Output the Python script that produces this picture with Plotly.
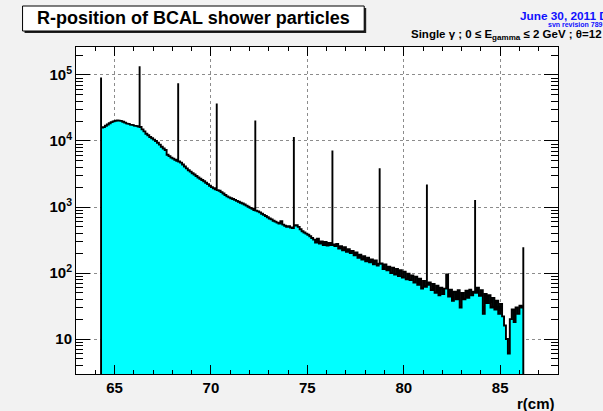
import numpy as np
import plotly.graph_objects as go

# ---------------- data ----------------
bin_lo = 64.3          # first bin lower edge (cm)
bin_width = 0.1        # cm
# continuum counts per 0.1 cm bin (64.3 .. 86.2 cm)
counts = [
    16000, 16200, 17000, 17800, 18600, 19300, 19800, 20200, 20400, 20300,
    20000, 19600, 19000, 18400, 18000, 17700, 17400, 17100, 16800, 16500,
    16300, 15000, 14000, 12900, 12200, 11500, 11000, 10500, 10000, 9400,
    8800, 8200, 7700, 7300, 6200, 5900, 5600, 5400, 5200, 5000,
    4900, 4700, 4400, 4100, 3850, 3600, 3430, 3250, 3100, 2950,
    2800, 2680, 2570, 2450, 2330, 2220, 2100, 2000, 1920, 1850,
    1800, 1760, 1680, 1600, 1520, 1450, 1400, 1360, 1320, 1280,
    1240, 1200, 1160, 1130, 1090, 1050, 1010, 970, 940, 900,
    880, 860, 830, 790, 760, 730, 700, 670, 650, 620,
    600, 580, 560, 610, 540, 520, 500, 510, 490, 480,
    525, 530, 500, 460, 430, 410, 395, 380, 360, 340,
    320, 290, 330, 280, 300, 265, 295, 260, 285, 265,
    270, 255, 275, 235, 255, 220, 245, 210, 230, 200,
    215, 185, 205, 170, 190, 160, 180, 150, 170, 145,
    160, 135, 155, 130, 138, 140, 115, 135, 110, 125,
    100, 120, 95, 115, 90, 110, 85, 105, 80, 98,
    78, 92, 72, 88, 66, 82, 58, 76, 62, 66,
    72, 55, 68, 50, 64, 46, 60, 48, 58, 95,
    44, 56, 38, 52, 40, 55, 30, 50, 40, 54,
    42, 56, 46, 52, 50, 60, 45, 55, 24, 48,
    35, 46, 30, 42, 28, 38, 24, 34, 22, 16,
    10, 6, 20, 28, 18, 30, 24, 32, 30,
]
# narrow peaks at the BCAL layer boundaries
spike_r = [64.3, 66.3, 68.3, 70.3, 72.3, 74.3, 76.3, 78.75, 81.2, 83.7, 86.2]
spike_counts = [92000, 136000, 75000, 37000, 20500, 11500, 7200, 3850, 2200, 1280, 245]

x_ticks = [65, 70, 75, 80, 85]
y_tickvals = [10, 100, 1000, 10000, 100000]
y_ticktext = ["10", "10<sup>2</sup>", "10<sup>3</sup>", "10<sup>4</sup>", "10<sup>5</sup>"]
title_text = "R-position of BCAL shower particles"
date_text = "June 30, 2011 D"
svn_text = "svn revision 789"
cond_text = "Single γ ; 0 ≤ E<sub>gamma</sub> ≤ 2 GeV ; θ=12"
xlabel = "r(cm)"

# ---------------- layout geometry (pixels) ----------------
W, H = 603, 411
ML, MR, MT, MB = 75.5, 45, 47, 37
PW = W - ML - MR
PH = H - MT - MB


def px(xp):
    return (xp - ML) / PW


def py(yp):
    return (H - MB - yp) / PH


# ---------------- histogram outline path ----------------
counts_arr = np.array(counts, dtype=float)
nb = len(counts_arr)
edges = bin_lo + bin_width * np.arange(nb + 1)
floor = 1.0
xs = [edges[0]]
ys = [floor]
eps = 1e-9
for i, c in enumerate(counts_arr):
    xl, xr = edges[i], edges[i + 1]
    xs.append(xl)
    ys.append(c)
    for s, h in zip(spike_r, spike_counts):
        inside = (xl - eps <= s < xr - eps) or (i == nb - 1 and abs(s - xr) < 1e-6)
        if inside:
            xs += [s, s, s]
            ys += [c, h, c]
    xs.append(xr)
    ys.append(c)
xs += [edges[-1], edges[0]]
ys += [floor, floor]

FONT = "Liberation Sans, Arial, Helvetica, sans-serif"

fig = go.Figure()
fig.add_trace(go.Scatter(
    x=xs, y=ys, mode="lines", fill="toself",
    fillcolor="#00ffff", line=dict(color="black", width=1.9),
    hoverinfo="skip", showlegend=False,
))

fig.update_layout(
    width=W, height=H,
    margin=dict(l=ML, r=MR, t=MT, b=MB, pad=0),
    paper_bgcolor="#f2f2f2", plot_bgcolor="white",
    font=dict(family=FONT, color="black"),
    showlegend=False,
)

fig.update_xaxes(
    range=[63, 88], tickvals=x_ticks,
    ticks="inside", ticklen=9, tickwidth=1, tickcolor="black",
    showline=True, linecolor="black", linewidth=1, mirror="allticks",
    showgrid=True, gridcolor="#8c8c8c", griddash="dot", gridwidth=1,
    zeroline=False,
    tickfont=dict(family=FONT, size=15, color="black", weight="bold"),
    minor=dict(ticks="inside", ticklen=4, dtick=1, tickcolor="black", showgrid=False),
)
fig.update_yaxes(
    type="log", range=[0.47, 5.424],
    tickvals=y_tickvals, ticktext=y_ticktext,
    ticks="inside", ticklen=14, tickwidth=1, tickcolor="black",
    showline=True, linecolor="black", linewidth=1, mirror="allticks",
    showgrid=True, gridcolor="#8c8c8c", griddash="dot", gridwidth=1,
    zeroline=False,
    tickfont=dict(family=FONT, size=15, color="black", weight="bold"),
    minor=dict(ticks="inside", ticklen=7, dtick="D1", tickcolor="black", showgrid=False),
)

# title box with shadow
fig.add_shape(type="rect", xref="paper", yref="paper",
              x0=px(24), x1=px(366), y0=py(33), y1=py(8),
              fillcolor="#202020", line=dict(width=0), layer="above")
fig.add_shape(type="rect", xref="paper", yref="paper",
              x0=px(22), x1=px(364), y0=py(31), y1=py(6),
              fillcolor="white", line=dict(color="black", width=1), layer="above")
fig.add_annotation(xref="paper", yref="paper", x=px(193), y=py(18.5),
                   text=title_text, showarrow=False, xanchor="center", yanchor="middle",
                   font=dict(family=FONT, size=18, color="black", weight="bold"))

fig.add_annotation(xref="paper", yref="paper", x=px(518), y=py(16),
                   text=date_text, showarrow=False, xanchor="left", yanchor="middle",
                   font=dict(family=FONT, size=11.8, color="#1010ff", weight="bold"))
fig.add_annotation(xref="paper", yref="paper", x=px(546), y=py(24.5),
                   text=svn_text, showarrow=False, xanchor="left", yanchor="middle",
                   font=dict(family=FONT, size=7, color="#1010ff", weight="bold"))
fig.add_annotation(xref="paper", yref="paper", x=px(409), y=py(35),
                   text=cond_text, showarrow=False, xanchor="left", yanchor="middle",
                   font=dict(family=FONT, size=11.5, color="black", weight="bold"))
fig.add_annotation(xref="paper", yref="paper", x=px(557), y=py(403),
                   text=xlabel, showarrow=False, xanchor="right", yanchor="middle",
                   font=dict(family=FONT, size=15, color="black", weight="bold"))

fig.write_html("out.html")
